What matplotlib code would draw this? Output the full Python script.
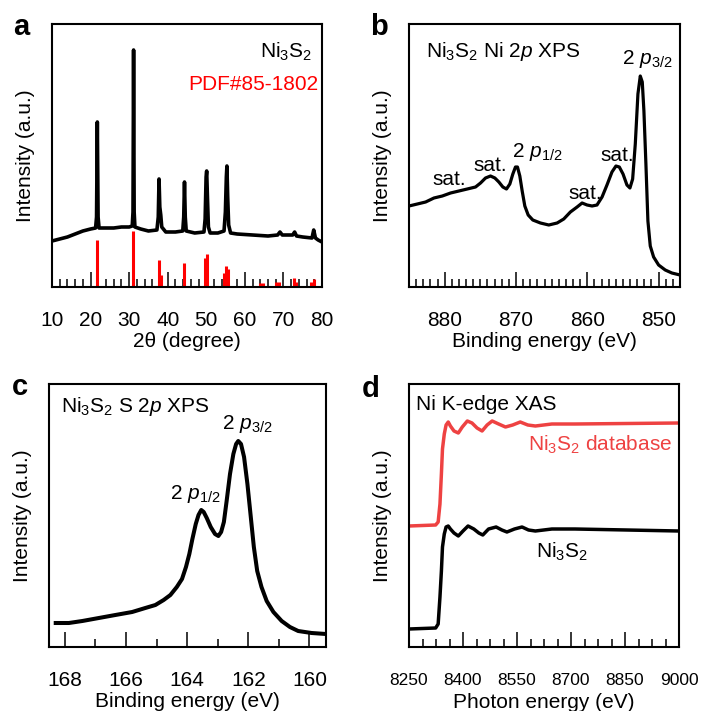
import numpy as np
import matplotlib
matplotlib.use("Agg")
import matplotlib.pyplot as plt
from matplotlib.ticker import MultipleLocator

plt.rcParams['font.family']=['Liberation Sans','DejaVu Sans']
plt.rcParams['mathtext.fontset']='custom'
plt.rcParams['mathtext.rm']='Liberation Sans'
plt.rcParams['mathtext.it']='Liberation Sans:italic'
plt.rcParams['mathtext.bf']='Liberation Sans:bold'
plt.rcParams['font.size']=15

# ---- data (intensity in arbitrary units) ----
# (a) XRD
two_theta=[10,12,14,16,18,20,21.3,21.55,21.75,21.95,22.2,24,26,28,30,30.8,31.0,31.15,31.3,31.5,
           33,35,37.2,37.55,37.75,37.95,38.2,38.45,39.5,42,43.9,44.15,44.35,44.55,44.8,47,
           49.4,49.7,49.95,50.1,50.3,50.55,51,53,54.6,54.95,55.2,55.35,55.55,55.8,56.3,58,
           62,66,68.5,69.1,69.7,72.4,72.9,73.4,75,77.4,77.85,78.3,79,80]
xrd_int=[46,48,50,53,56,58,59,70,165,70,59,59,59,60,60,61,75,237,75,60,
         58,56,57,70,108,80,72,60,55,55,56,70,105,70,56,54,
         55,68,110,116,90,60,54,54,56,75,110,121,90,62,54,53,
         52,51,52,55,52,52,55,51,50,49,57,49,47,45]
pdf_pos=[21.75,31.1,37.7,38.3,44.3,49.6,50.1,54.5,55.1,55.5,63.9,64.6,68.2,68.8,72.8,73.3,77.2,77.9]
pdf_int=[47,56,27,12,24,29,33,14,21,18,4,4,5,5,9,5,5,8]

# (b) Ni 2p XPS
ni_be=[885.0,883.83,882.67,881.5,880.33,879.17,878.0,876.83,875.67,874.97,874.27,873.57,872.96,
       872.4,871.84,871.33,870.86,870.44,870.07,869.79,869.46,869.13,868.76,868.29,867.64,866.57,
       865.4,864.23,863.3,862.37,861.43,860.73,860.03,859.33,858.64,857.93,857.24,856.54,855.98,
       855.51,854.99,854.44,854.02,853.64,853.27,852.9,852.57,852.29,852.06,851.78,851.5,851.17,
       850.7,850.0,849.07,848.14,847.0]
ni_int=[81,83,85,89,91,94,96,98,100,104,109,111,109,
        105,100,98,103,113,120,120,111,96,81,72,67,64,
        62,64,68,75,80,84,82,81,82,90,102,115,121,
        120,113,102,99,108,143,193,211,205,176,123,66,41,
        30,22,17,14,12]

# (c) S 2p XPS
s_be=[168.30,167.87,167.43,166.89,166.35,165.80,165.37,165.04,164.77,164.55,164.34,164.17,164.04,
      163.93,163.83,163.72,163.63,163.54,163.46,163.36,163.23,163.09,162.98,162.89,162.80,162.71,
      162.60,162.49,162.40,162.33,162.24,162.14,162.03,161.92,161.82,161.71,161.57,161.40,161.18,
      160.91,160.64,160.37,159.93,159.46]
s_int=[24,24,26,29,32,35,39,42,47,52,60,68,80,
       93,108,123,132,137,135,129,120,113,111,115,125,146,
       173,193,203,206,203,190,163,130,100,76,60,46,35,
       26,20,16,14,13]

# (d) Ni K-edge XAS
xas_e_db=[8250,8324,8331,8336,8340,8343,8348,8353,8359,8365,8375,8387,8398,8412,8425,8439,8453,
          8467,8481,8499,8518,8538,8559,8580,8601,8647,8711,9000]
xas_db=[121,122,125,143,173,198,213,222,225,221,216,214,220,226,224,219,216,
        222,226,223,220,222,225,222,221,223,223,224]
xas_e=[8250,8324,8331,8336,8340,8343,8348,8353,8359,8365,8375,8387,8400,8414,8430,8444,8455,
       8471,8492,8508,8522,8543,8564,8582,8601,8647,8711,9000]
xas_ni3s2=[18,19,23,50,76,100,113,120,121,118,114,111,116,121,118,114,112,
           118,120,117,115,118,120,117,116,118,118,116]

NI3S2=r"Ni$\mathregular{_3}$S$\mathregular{_2}$"
DB_RED='#ee4242'

W,H=704,711
fig=plt.figure(figsize=(W/100,H/100),dpi=100)

def add_ax(x0,x1,ytop,ybot):
    return fig.add_axes([x0/W,1-ybot/H,(x1-x0)/W,(ybot-ytop)/H])

def style_axis(ax,xlabel,major,minor,xlim,labelsize=15,pad=17,labelpad=1.5):
    ax.set_xlim(*xlim)
    ax.set_ylim(0,263)
    ax.set_yticks([])
    ax.xaxis.set_major_locator(MultipleLocator(major))
    ax.xaxis.set_minor_locator(MultipleLocator(minor))
    ax.tick_params(axis='x',which='major',direction='in',length=11,width=1.1,pad=pad,labelsize=labelsize)
    ax.tick_params(axis='x',which='minor',direction='in',length=5.5,width=1.1)
    for s in ax.spines.values():
        s.set_linewidth(1.5)
    ax.set_xlabel(xlabel,labelpad=labelpad)
    ax.set_ylabel("Intensity (a.u.)",labelpad=12)

# (a)
ax=add_ax(52,322,24,287)
ax.plot(two_theta,xrd_int,color='black',lw=2.6,solid_joinstyle='round')
ax.vlines(pdf_pos,0,pdf_int,color='red',lw=2.2)
style_axis(ax,"2θ (degree)",10,2,(10,80))
ax.text(0.963,0.873,NI3S2,transform=ax.transAxes,ha='right',va='baseline')
ax.text(0.988,0.749,"PDF#85-1802",transform=ax.transAxes,ha='right',va='baseline',color='red')

# (b)
ax=add_ax(409,680,24,287)
ax.plot(ni_be,ni_int,color='black',lw=2.3,solid_joinstyle='round')
style_axis(ax,"Binding energy (eV)",10,1,(885,847))
ax.text(0.062,0.875,NI3S2+r" Ni 2$\mathit{p}$ XPS",transform=ax.transAxes,va='baseline')
ax.text(0.786,0.848,r"2 $\mathit{p}_{\mathregular{3/2}}$",transform=ax.transAxes,va='baseline')
ax.text(0.380,0.495,r"2 $\mathit{p}_{\mathregular{1/2}}$",transform=ax.transAxes,va='baseline')
for tx,ty in [(0.085,0.389),(0.236,0.442),(0.587,0.335),(0.708,0.480)]:
    ax.text(tx,ty,"sat.",transform=ax.transAxes,va='baseline')

# (c)
ax=add_ax(49,326,384,647)
ax.plot(s_be,s_int,color='black',lw=2.9,solid_joinstyle='round')
style_axis(ax,"Binding energy (eV)",2,1,(168.52,159.46))
ax.text(0.042,0.892,NI3S2+r" S 2$\mathit{p}$ XPS",transform=ax.transAxes,va='baseline')
ax.text(0.624,0.829,r"2 $\mathit{p}_{\mathregular{3/2}}$",transform=ax.transAxes,va='baseline')
ax.text(0.436,0.563,r"2 $\mathit{p}_{\mathregular{1/2}}$",transform=ax.transAxes,va='baseline')

# (d)
ax=add_ax(409,679,384,647)
ax.plot(xas_e_db,xas_db,color=DB_RED,lw=2.5,solid_joinstyle='round')
ax.plot(xas_e,xas_ni3s2,color='black',lw=2.5,solid_joinstyle='round')
style_axis(ax,"Photon energy (eV)",150,37.5,(8250,9000),labelsize=12.5,pad=18.5,labelpad=4)
ax.text(0.025,0.901,"Ni K-edge XAS",transform=ax.transAxes,va='baseline')
ax.text(0.442,0.746,NI3S2+" database",transform=ax.transAxes,va='baseline',color=DB_RED)
ax.text(0.469,0.338,NI3S2,transform=ax.transAxes,va='baseline')

for lab,px,py in [('a',13,35),('b',370,35),('c',12,395),('d',362,397)]:
    fig.text(px/W,1-py/H,lab,fontsize=21,fontweight='bold',va='baseline')

fig.savefig("out.png",dpi=100)
